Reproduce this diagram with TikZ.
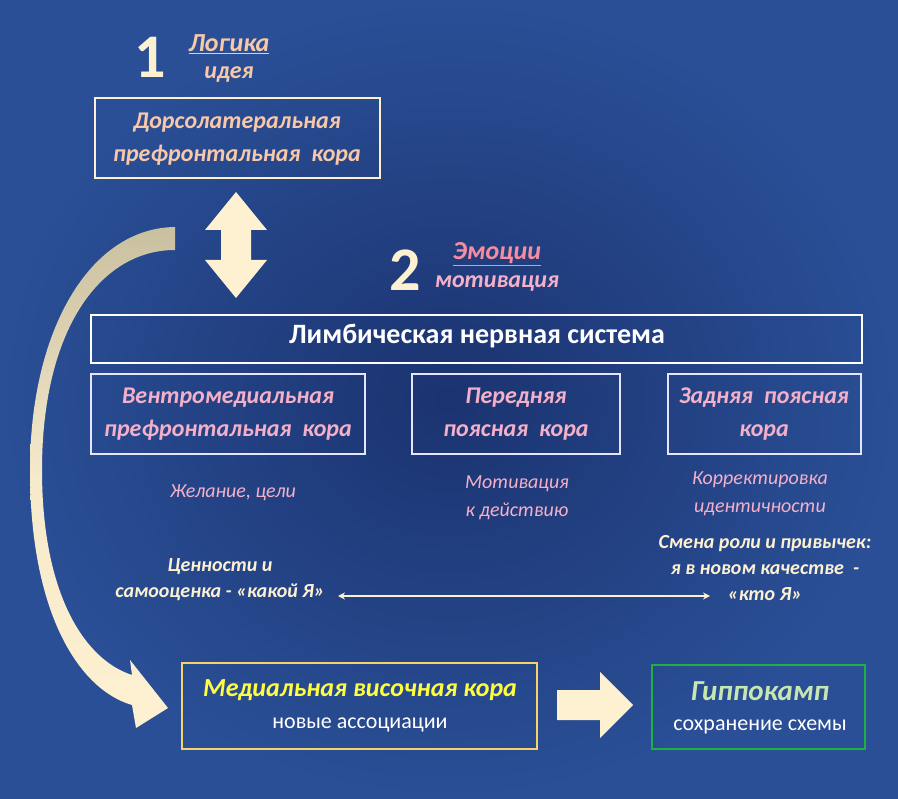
\documentclass[tikz,border=0pt]{standalone}
\usepackage{fontspec}
\setmainfont{Carlito}
\usetikzlibrary{arrows.meta,shadings}
\definecolor{bgA}{HTML}{1B3370}
\definecolor{bgB}{HTML}{2A4F96}
\definecolor{cream}{HTML}{FDF1D2}
\definecolor{peach}{HTML}{F8C8A8}
\definecolor{pinkc}{HTML}{F4B0C8}
\definecolor{tanc}{HTML}{C9C0A0}
\definecolor{yel}{HTML}{FFFF40}
\definecolor{yelb}{HTML}{F5D36A}
\definecolor{grn}{HTML}{20B040}
\definecolor{lgrn}{HTML}{C8E6B0}
\tikzset{
 box/.style={draw=#1,line width=1.3pt},
 t/.style={font=\bfseries\itshape\fontsize{24}{28}\selectfont,align=center},
 bt/.style={font=\bfseries\itshape\fontsize{24}{33}\selectfont,align=center},
 s/.style={font=\itshape\fontsize{20}{28}\selectfont,align=center},
 sb/.style={font=\bfseries\itshape\fontsize{20}{26}\selectfont,align=center},
 num/.style={font=\bfseries\fontsize{62}{62}\selectfont,text=cream},
}
\begin{document}
\begin{tikzpicture}[x=1pt,y=-1pt]
\shade[inner color=bgA,outer color=bgB] (0,0) rectangle (898,799);
\useasboundingbox (0,0) rectangle (898,799);
% numbers
\node[num] (n1) at (150,57) {1};
\node[num] (n2) at (405,270) {2};
\node[t,text=peach,font=\bfseries\itshape\fontsize{26}{28}\selectfont] (log) at (229,44) {\underline{Логика}};
\node[t,text=peach] (idea) at (229,75) {идея};
\node[t,text=pinkc!80!red,font=\bfseries\itshape\fontsize{26}{28}\selectfont] (emo) at (497,254) {\underline{Эмоции}};
\node[t,text=pinkc] (mot) at (497,284) {мотивация};
% DLPFC
\draw[box=cream] (95,98) rectangle (380,178);
\node[bt,text=peach] (dl) at (237,139) {Дорсолатеральная\\префронтальная \ кора};
% vertical double arrow
\fill[cream] (236,192) -- (267,230) -- (251,230) -- (251,260) -- (267,260) -- (236,298) -- (205,260) -- (221,260) -- (221,230) -- (205,230) -- cycle;
% limbic
\draw[box=white] (91,315) rectangle (862,363);
\node[font=\bfseries\fontsize{28}{30}\selectfont,text=white] (lim) at (477,336) {Лимбическая нервная система};
\draw[box=white!90!blue] (91,374) rectangle (365,454);
\draw[box=white!90!blue] (412,374) rectangle (620,454);
\draw[box=white!90!blue] (668,374) rectangle (861,454);
\node[bt,text=pinkc] (vm) at (228,414) {Вентромедиальная\\префронтальная \ кора};
\node[bt,text=pinkc] (ac) at (516,414) {Передняя\\поясная \ кора};
\node[bt,text=pinkc] (pc) at (764,414) {Задняя \ поясная\\кора};
% descriptions
\node[s,text=pinkc] (d1) at (233,493) {Желание, цели};
\node[s,text=pinkc] (d2) at (517,498) {Мотивация\\к действию};
\node[s,text=pinkc] (d3) at (760,494) {Корректировка\\идентичности};
\node[sb,text=cream] (d4) at (220,580) {Ценности и\\самооценка - «какой Я»};
\node[sb,text=cream] (d5) at (765,568) {Смена роли и привычек:\\я в новом качестве \ -\\«кто Я»};
\coordinate (ae) at (710,596);
\draw[cream,line width=1.2pt,{Stealth[length=7pt,width=7pt]}-{Stealth[length=7pt,width=7pt]}] (338,596) -- (ae);
% curved arrow
\shade[top color=tanc,bottom color=cream,middle color=cream!85!tanc]
 (175,227) .. controls (90,228) and (30,330) .. (30,470)
 .. controls (30,615) and (80,690) .. (132,705)
 -- (136,728) -- (168,708) -- (130,660) -- (132,675)
 .. controls (85,660) and (42,595) .. (42,470)
 .. controls (42,330) and (100,250) .. (175,250) -- cycle;
% bottom boxes
\draw[box=yelb] (182,663) rectangle (537,749);
\node[t,text=yel,font=\bfseries\itshape\fontsize{26}{28}\selectfont] (mt) at (360,690) {Медиальная височная кора};
\node[font=\fontsize{22}{24}\selectfont,text=white] (na) at (360,725) {новые ассоциации};
\draw[box=grn] (652,665) rectangle (865,749);
\node[t,text=lgrn,font=\bfseries\itshape\fontsize{29}{30}\selectfont] (hp) at (760,691) {Гиппокамп};
\node[font=\fontsize{22}{24}\selectfont,text=white] (ss) at (760,727) {сохранение схемы};
\fill[cream] (557,690) -- (600,690) -- (600,672) -- (633,705) -- (600,738) -- (600,720) -- (557,720) -- cycle;
\end{tikzpicture}
\end{document}
